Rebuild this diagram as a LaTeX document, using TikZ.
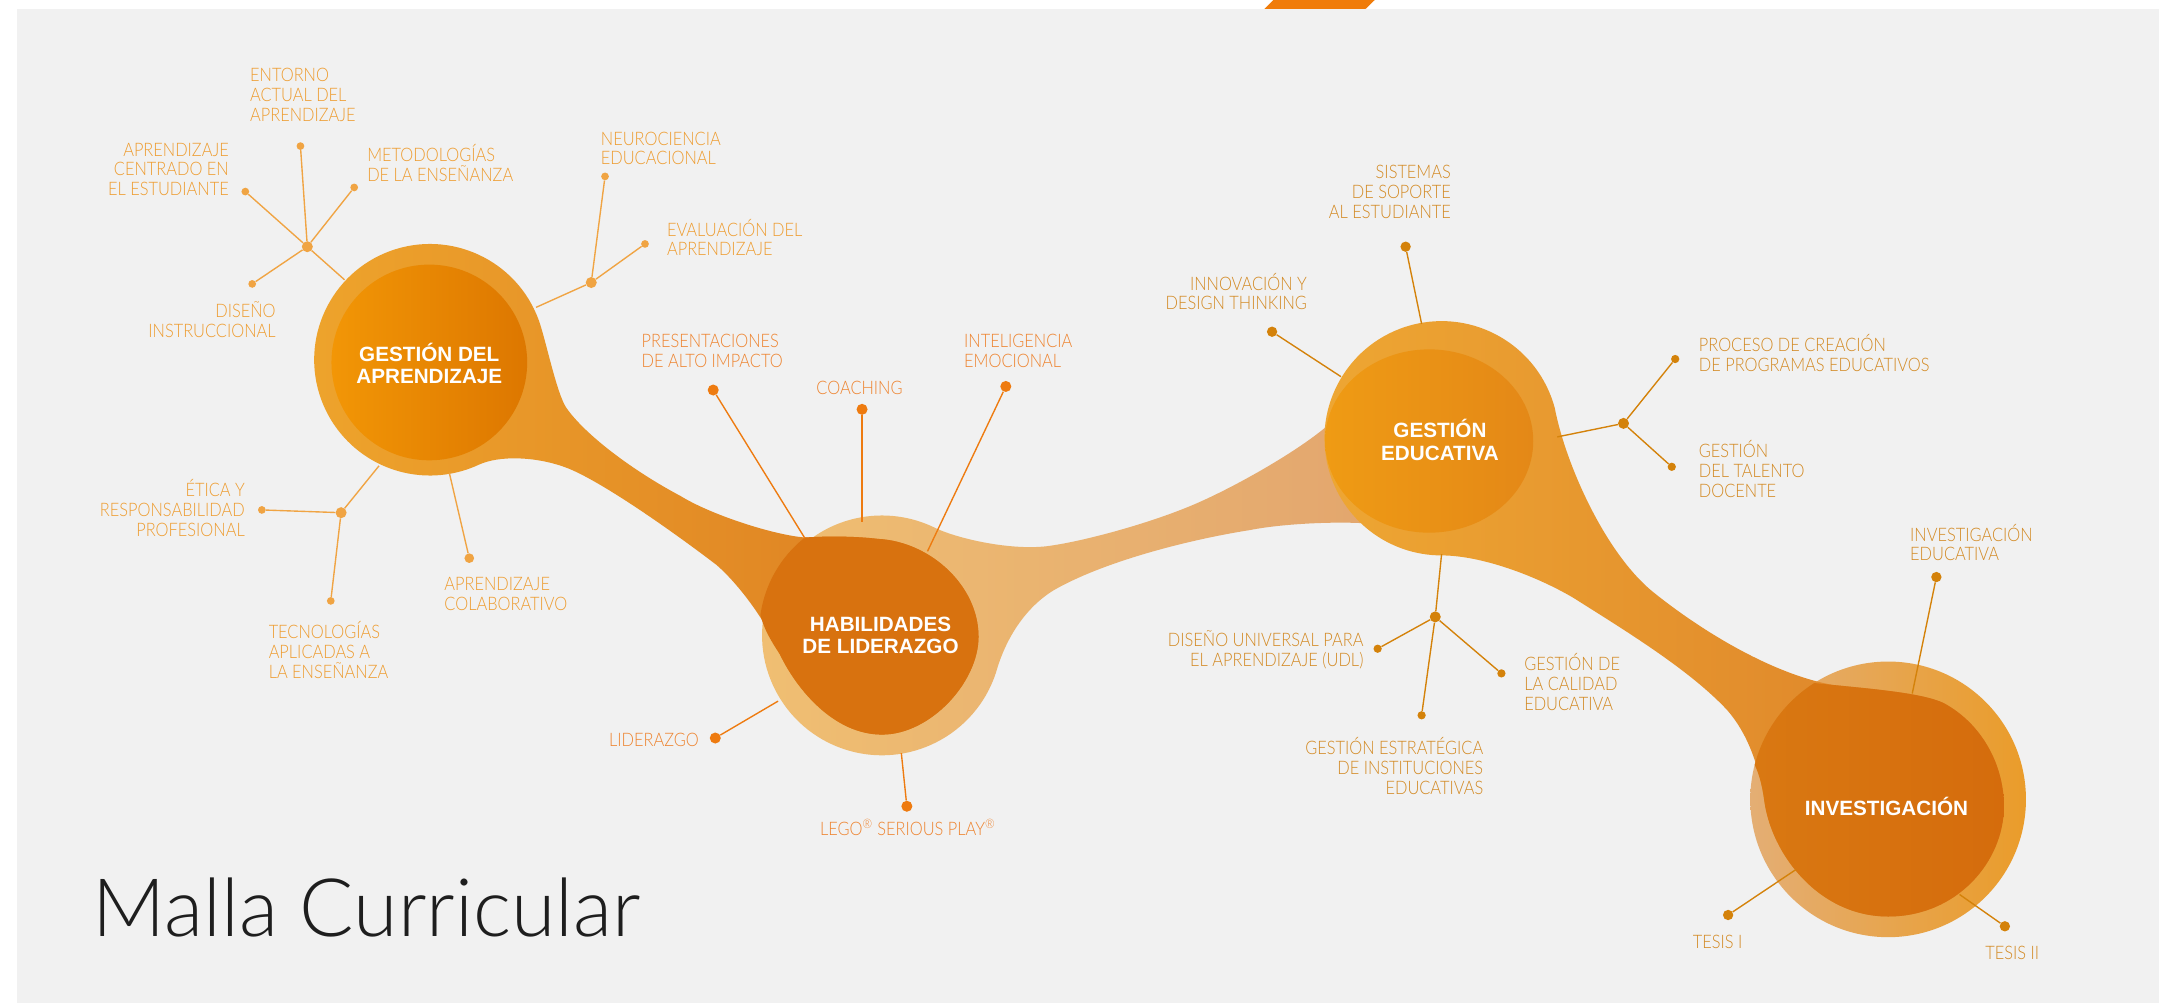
\documentclass[tikz,border=0pt]{standalone}
\usepackage{fontspec}
\setmainfont{Liberation Sans}
\newfontfamily\labfont{Lato Light}[FakeStretch=0.88]
\newfontfamily\titfont{Lato Light}
\definecolor{bg}{HTML}{F1F1F1}
\definecolor{orng}{HTML}{F07C0A}
\definecolor{gaOutL}{HTML}{EEA42C}
\definecolor{gaOutR}{HTML}{DC7D22}
\definecolor{gaInL}{HTML}{F29606}
\definecolor{gaInR}{HTML}{DD7700}
\definecolor{habLight}{HTML}{F0BF72}
\definecolor{habBand}{HTML}{E2A56E}
\definecolor{habDark}{HTML}{D8720F}
\definecolor{geOutL}{HTML}{EEA733}
\definecolor{geOutR}{HTML}{DC8029}
\definecolor{geInL}{HTML}{EF9B14}
\definecolor{geInR}{HTML}{E48817}
\definecolor{invLightL}{HTML}{E4AE74}
\definecolor{invLightR}{HTML}{EA9C2A}
\definecolor{invDarkL}{HTML}{D97812}
\definecolor{invDarkR}{HTML}{D56C0C}
\definecolor{txA}{HTML}{EE9C30}
\definecolor{lnA}{HTML}{F0A443}
\definecolor{txB}{HTML}{EE8430}
\definecolor{lnB}{HTML}{EE7B10}
\definecolor{txC}{HTML}{D38A24}
\definecolor{lnC}{HTML}{D4820A}
\definecolor{titc}{HTML}{1E1E1E}
\newcommand\firstln{\rule{0pt}{12.5pt}}
\begin{document}
\begin{tikzpicture}[x=1pt,y=-1pt,
  lab/.style={font=\labfont\fontsize{13.5}{14.4}\selectfont, inner sep=0pt, outer sep=0pt},
  labL/.style={lab, align=left, anchor=north west},
  labR/.style={lab, align=right, anchor=north east},
  ctr/.style={font=\bfseries\fontsize{15}{16.5}\selectfont, text=white, align=center, inner sep=0pt},
  dotA/.style={circle, fill=lnA, inner sep=0pt, minimum size=5.6pt},
  hubA/.style={circle, fill=lnA, inner sep=0pt, minimum size=8pt},
  dotB/.style={circle, fill=lnB, inner sep=0pt, minimum size=8pt},
  dotC/.style={circle, fill=lnC, inner sep=0pt, minimum size=7.5pt},
  hubC/.style={circle, fill=lnC, inner sep=0pt, minimum size=8pt},
  lineA/.style={draw=lnA, line width=1pt},
  lineB/.style={draw=lnB, line width=1pt},
  lineC/.style={draw=lnC, line width=1pt}]
\useasboundingbox (0,0) rectangle (1568,728);
\fill[white] (0,0) rectangle (1568,728);
\fill[bg] (12.3,6.5) rectangle (1566.5,728);
\fill[orng] (917.4,6.5) -- (924,0) -- (997.5,0) -- (990.8,6.5) -- cycle;

% Habilidades light circle + band to Gestion Educativa
\path[left color=habLight, right color=habBand]
 (722.7,487.9) arc[start angle=18, end angle=296.3, radius=87]
 .. controls (695,391) and (735,400) .. (762,396)
 .. controls (790,392) and (840,378) .. (871,364)
 .. controls (900,351) and (942,327) .. (963,309)
 -- (1000,300) -- (1020,350) -- (995,380)
 .. controls (970,378) and (930,380) .. (907,384.6)
 .. controls (860,392) and (800,408) .. (765,428)
 .. controls (745,440) and (730,462) .. (722.7,487.9) -- cycle;

% Gestion del aprendizaje outer + band
\path[left color=gaOutL, right color=gaOutR]
 (390.9,232.3) arc[start angle=-20, end angle=-295, radius=84]
 .. controls (362,330.5) and (388,331) .. (410,339)
 .. controls (435,348) and (490,387) .. (520,410)
 .. controls (535,423) and (556,450) .. (566,475)
 .. controls (578,500) and (605,533) .. (640,533)
 .. controls (675,533) and (710,495) .. (710,462)
 .. controls (710,425) and (675,393) .. (637,391)
 .. controls (620,389) and (600,389) .. (584,390)
 .. controls (560,388) and (515,373) .. (494,360)
 .. controls (460,342) and (425,316) .. (411,296)
 .. controls (404,286) and (396,246.4) .. (390.9,232.3) -- cycle;

% Habilidades dark blob
\path[fill=habDark]
 (566,475) .. controls (578,500) and (605,533) .. (640,533)
 .. controls (675,533) and (710,495) .. (710,462)
 .. controls (710,425) and (675,393) .. (637,391)
 .. controls (620,389) and (600,389) .. (584,390)
 arc[start angle=231.7, end angle=188, radius=87]
 .. controls (554,456) and (560,466) .. (566,475) -- cycle;

% Investigacion light circle
\path[left color=invLightL, right color=invLightR] (1370,580) circle[radius=100];

% Gestion educativa outer + band to Investigacion
\path[left color=geOutL, right color=geOutR]
 (1128.1,296) arc[start angle=-15, end angle=-270, radius=85]
 .. controls (1075,403) and (1115,418) .. (1142,434)
 .. controls (1175,455) and (1225,485) .. (1253,515)
 .. controls (1268,532) and (1276,555) .. (1280,580)
 .. controls (1285,620) and (1320,665) .. (1370,665)
 .. controls (1420,665) and (1454,625) .. (1454,585)
 .. controls (1454,555) and (1438,525) .. (1410,510)
 .. controls (1395,503) and (1360,500) .. (1330,497)
 .. controls (1290,490) and (1240,462) .. (1200,430)
 .. controls (1165,402) and (1136,337) .. (1128.1,296) -- cycle;

% Investigacion dark blob
\path[left color=invDarkL, right color=invDarkR]
 (1316.4,495.6) arc[start angle=237.6, end angle=194.5, radius=100]
 .. controls (1277,563) and (1279,572) .. (1280,580)
 .. controls (1285,620) and (1320,665) .. (1370,665)
 .. controls (1420,665) and (1454,625) .. (1454,585)
 .. controls (1454,555) and (1438,525) .. (1410,510)
 .. controls (1395,503) and (1360,500) .. (1330,497) -- cycle;

% inner circles
\path[left color=gaInL, right color=gaInR] (311.5,263) circle[radius=71];
\path[left color=geInL, right color=geInR] (1037,320) ellipse[x radius=75.5, y radius=66.5];

% ---------- Gestion del aprendizaje branches
\node[hubA] (hA) at (223,179) {};
\node[dotA] (dEnt) at (218,106) {};
\node[dotA] (dCen) at (178,139) {};
\node[dotA] (dMet) at (257,136) {};
\node[dotA] (dDis) at (183,206) {};
\coordinate (eA) at (250,203);
\draw[lineA] (hA) -- (dEnt);
\draw[lineA] (hA) -- (dCen);
\draw[lineA] (hA) -- (dMet);
\draw[lineA] (hA) -- (dDis);
\draw[lineA] (hA) -- (eA);

\node[hubA] (hB) at (429,205) {};
\node[dotA] (dNeu) at (439,128) {};
\node[dotA] (dEva) at (468,177) {};
\coordinate (eB) at (389,223);
\draw[lineA] (hB) -- (dNeu);
\draw[lineA] (hB) -- (dEva);
\draw[lineA] (hB) -- (eB);

\node[hubA] (hC) at (247.5,372) {};
\node[dotA] (dEti) at (190,370) {};
\node[dotA] (dTec) at (240,436) {};
\coordinate (eC) at (275,338);
\draw[lineA] (hC) -- (dEti);
\draw[lineA] (hC) -- (dTec);
\draw[lineA] (hC) -- (eC);

\node[dotA, minimum size=7pt] (dCol) at (340.5,405) {};
\coordinate (eD) at (326,343);
\draw[lineA] (dCol) -- (eD);

\node[labL, text=txA] (tEnt) at (181.5,46.8) {\firstln ENTORNO\\ACTUAL DEL\\APRENDIZAJE};
\node[labR, text=txA] (tCen) at (166,100.7) {\firstln APRENDIZAJE\\CENTRADO EN\\EL ESTUDIANTE};
\node[labL, text=txA] (tMet) at (266.5,104.8) {\firstln METODOLOGÍAS\\DE LA ENSEÑANZA};
\node[labR, text=txA] (tDis) at (200,217.8) {\firstln DISEÑO\\INSTRUCCIONAL};
\node[labL, text=txA] (tNeu) at (436,92.8) {\firstln NEUROCIENCIA\\EDUCACIONAL};
\node[labL, text=txA] (tEva) at (484,158.8) {\firstln EVALUACIÓN DEL\\APRENDIZAJE};
\node[labR, text=txA] (tEti) at (177.6,348.1) {\firstln ÉTICA Y\\RESPONSABILIDAD\\PROFESIONAL};
\node[labL, text=txA] (tTec) at (195,451) {\firstln TECNOLOGÍAS\\APLICADAS A\\LA ENSEÑANZA};
\node[labL, text=txA] (tCol) at (322.5,416) {\firstln APRENDIZAJE\\COLABORATIVO};

% ---------- Habilidades de liderazgo branches
\node[dotB] (dPre) at (517.5,283) {};
\node[dotB] (dCoa) at (625.5,297) {};
\node[dotB] (dInt) at (729.8,280.4) {};
\node[dotB] (dLid) at (519,535.5) {};
\node[dotB] (dLeg) at (658,585) {};
\coordinate (ePre) at (584,390.5);
\coordinate (eCoa) at (625.5,379);
\coordinate (eInt) at (673,400);
\coordinate (eLid) at (564.6,508.7);
\coordinate (eLeg) at (654,546.5);
\draw[lineB] (dPre) -- (ePre);
\draw[lineB] (dCoa) -- (eCoa);
\draw[lineB] (dInt) -- (eInt);
\draw[lineB] (dLid) -- (eLid);
\draw[lineB] (dLeg) -- (eLeg);

\node[labL, text=txB] (tPre) at (465.6,239.8) {\firstln PRESENTACIONES\\DE ALTO IMPACTO};
\node[labL, text=txB] (tCoa) at (592.4,273.5) {\firstln COACHING};
\node[labL, text=txB] (tInt) at (699.6,239.8) {\firstln INTELIGENCIA\\EMOCIONAL};
\node[labR, text=txB] (tLid) at (507,529.1) {\firstln LIDERAZGO};
\node[labL, text=txB] (tLeg) at (595,593.7) {\firstln LEGO\textsuperscript{®} SERIOUS PLAY\textsuperscript{®}};

% ---------- Gestion educativa branches
\node[dotC] (dSis) at (1019.9,179) {};
\node[dotC] (dInn) at (923,240.7) {};
\coordinate (eSis) at (1031.5,235);
\coordinate (eInn) at (973,273.3);
\draw[lineC] (dSis) -- (eSis);
\draw[lineC] (dInn) -- (eInn);

\node[hubC] (hD) at (1178,307.2) {};
\node[dotC, minimum size=6pt] (dPro) at (1215.5,260.5) {};
\node[dotC, minimum size=6pt] (dTal) at (1213,338.7) {};
\coordinate (eD2) at (1130,317);
\draw[lineC] (hD) -- (dPro);
\draw[lineC] (hD) -- (dTal);
\draw[lineC] (hD) -- (eD2);

\node[hubC] (hE) at (1041.4,447.6) {};
\node[dotC, minimum size=6pt] (dUdl) at (999.6,470.7) {};
\node[dotC, minimum size=6pt] (dCal) at (1089.4,488.6) {};
\node[dotC, minimum size=6pt] (dEst) at (1031.5,519) {};
\coordinate (eE) at (1046,402);
\draw[lineC] (hE) -- (eE);
\draw[lineC] (hE) -- (dUdl);
\draw[lineC] (hE) -- (dCal);
\draw[lineC] (hE) -- (dEst);

\node[labR, text=txC] (tSis) at (1052.7,116.9) {\firstln SISTEMAS\\DE SOPORTE\\AL ESTUDIANTE};
\node[labR, text=txC] (tInn) at (948.3,198) {\firstln INNOVACIÓN Y\\DESIGN THINKING};
\node[labL, text=txC] (tPro) at (1232.7,242.5) {\firstln PROCESO DE CREACIÓN\\DE PROGRAMAS EDUCATIVOS};
\node[labL, text=txC] (tTal) at (1232.7,319.6) {\firstln GESTIÓN\\DEL TALENTO\\DOCENTE};
\node[labR, text=txC] (tUdl) at (989.3,456.4) {\firstln DISEÑO UNIVERSAL PARA\\EL APRENDIZAJE (UDL)};
\node[labL, text=txC] (tCal) at (1106,474.2) {\firstln GESTIÓN DE\\LA CALIDAD\\EDUCATIVA};
\node[labR, text=txC] (tEst) at (1076.2,534.9) {\firstln GESTIÓN ESTRATÉGICA\\DE INSTITUCIONES\\EDUCATIVAS};

% ---------- Investigacion branches
\node[dotC] (dInv) at (1405,418.7) {};
\node[dotC] (dT1) at (1253.9,663.9) {};
\node[dotC] (dT2) at (1454.7,672.1) {};
\coordinate (eInv) at (1387.5,503.2);
\coordinate (eT1) at (1303,631);
\coordinate (eT2) at (1421.8,649);
\draw[lineC] (dInv) -- (eInv);
\draw[lineC] (dT1) -- (eT1);
\draw[lineC] (dT2) -- (eT2);

\node[labL, text=txC] (tInv) at (1386,380.1) {\firstln INVESTIGACIÓN\\EDUCATIVA};
\node[labL, text=txC] (tT1) at (1228.4,675.7) {\firstln TESIS I};
\node[labL, text=txC] (tT2) at (1440.5,683.9) {\firstln TESIS II};

% ---------- central titles
\node[ctr] (cGA) at (311.5,263.7) {GESTIÓN DEL\\APRENDIZAJE};
\node[ctr] (cHL) at (638.9,461.1) {HABILIDADES\\DE LIDERAZGO};
\node[ctr] (cGE) at (1044.8,319.3) {GESTIÓN\\EDUCATIVA};
\node[ctr] (cIN) at (1368.8,585.1) {INVESTIGACIÓN};

\node[anchor=base west, inner sep=0pt, text=titc, font=\titfont\fontsize{58.5}{60}\selectfont] (title) at (67,679.8) {Malla Curricular};
\end{tikzpicture}
\end{document}
